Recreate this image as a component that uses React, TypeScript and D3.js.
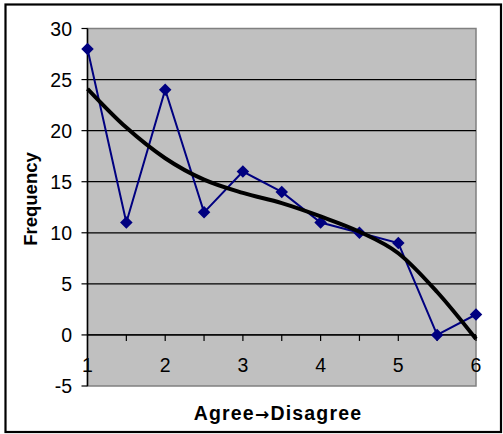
import React from "react";
import * as d3 from "d3";

const xValues = [1, 1.5, 2, 2.5, 3, 3.5, 4, 4.5, 5, 5.5, 6];
const frequency = [28, 11, 24, 12, 16, 14, 11, 10, 9, 0, 2];
const trendValues = [24.1, 20.3, 17.3, 15.2, 13.9, 12.9, 11.6, 10.1, 8.0, 4.2, -0.4];
const yTicks = [-5, 0, 5, 10, 15, 20, 25, 30];
const xTickLabels = [1, 2, 3, 4, 5, 6];
const xMinorTicks = [1.5, 2, 2.5, 3, 3.5, 4, 4.5, 5, 5.5, 6];

const W = 503;
const H = 434;
const plot = { left: 87.5, right: 476, top: 28.5, bottom: 386 };
const font = "'Liberation Sans', Arial, sans-serif";

export default function App() {
  const x = d3.scaleLinear().domain([1, 6]).range([plot.left, plot.right]);
  const y = d3.scaleLinear().domain([-5, 30]).range([plot.bottom, plot.top]);

  const seriesLine = d3
    .line<number>()
    .x((_, i) => x(xValues[i]))
    .y((d) => y(d))(frequency);

  const trendLine = d3
    .line<number>()
    .x((_, i) => x(xValues[i]))
    .y((d) => y(d))
    .curve(d3.curveMonotoneX)(trendValues);

  const diamond = d3.symbol().type(d3.symbolDiamond2).size(100)();

  return (
    <svg
      width={W}
      height={H}
      style={{ position: "absolute", left: 0, top: 0, background: "#fff" }}
    >
      <rect x={5.5} y={4.5} width={495.5} height={427.5} fill="#fff" stroke="#000" strokeWidth={2.2} />
      <rect
        x={plot.left}
        y={plot.top}
        width={plot.right - plot.left}
        height={plot.bottom - plot.top}
        fill="#C0C0C0"
        stroke="#808080"
        strokeWidth={1.5}
      />
      {yTicks
        .filter((t) => t > -5 && t < 30)
        .map((t) => (
          <line key={"g" + t} x1={plot.left} x2={plot.right} y1={y(t)} y2={y(t)} stroke="#000" strokeWidth={1.2} />
        ))}
      <line x1={plot.left} x2={plot.left} y1={plot.top} y2={plot.bottom} stroke="#000" strokeWidth={1.5} />
      {yTicks.map((t) => (
        <g key={"yt" + t}>
          <line x1={plot.left - 6} x2={plot.left} y1={y(t)} y2={y(t)} stroke="#000" strokeWidth={1.2} />
          <text
            x={72}
            y={y(t)}
            dy="0.36em"
            textAnchor="end"
            fontFamily={font}
            fontSize={19.5}
            fill="#000"
          >
            {t}
          </text>
        </g>
      ))}
      <line x1={plot.left} x2={plot.right} y1={y(0)} y2={y(0)} stroke="#000" strokeWidth={1.2} />
      {xMinorTicks.map((t) => (
        <line key={"xt" + t} x1={x(t)} x2={x(t)} y1={y(0)} y2={y(0) + 6} stroke="#000" strokeWidth={1.2} />
      ))}
      {xTickLabels.map((t) => (
        <text
          key={"xl" + t}
          x={x(t)}
          y={372}
          textAnchor="middle"
          fontFamily={font}
          fontSize={19.5}
          fill="#000"
        >
          {t}
        </text>
      ))}
      <path d={seriesLine || ""} fill="none" stroke="#000080" strokeWidth={2} />
      {frequency.map((v, i) => (
        <path key={"m" + i} d={diamond || ""} transform={`translate(${x(xValues[i])},${y(v)})`} fill="#000080" />
      ))}
      <path d={trendLine || ""} fill="none" stroke="#000" strokeWidth={4} />
      <text
        transform="translate(37,199) rotate(-90)"
        textAnchor="middle"
        fontFamily={font}
        fontWeight="bold"
        fontSize={18.5}
        fill="#000"
      >
        Frequency
      </text>
      <text
        x={278}
        y={420}
        textAnchor="middle"
        fontFamily={font}
        fontWeight="bold"
        fontSize={19.5}
        letterSpacing={1.2}
        fill="#000"
      >
        Agree
        <tspan fontFamily="'DejaVu Sans', sans-serif" fontSize={17}>→</tspan>
        Disagree
      </text>
    </svg>
  );
}
